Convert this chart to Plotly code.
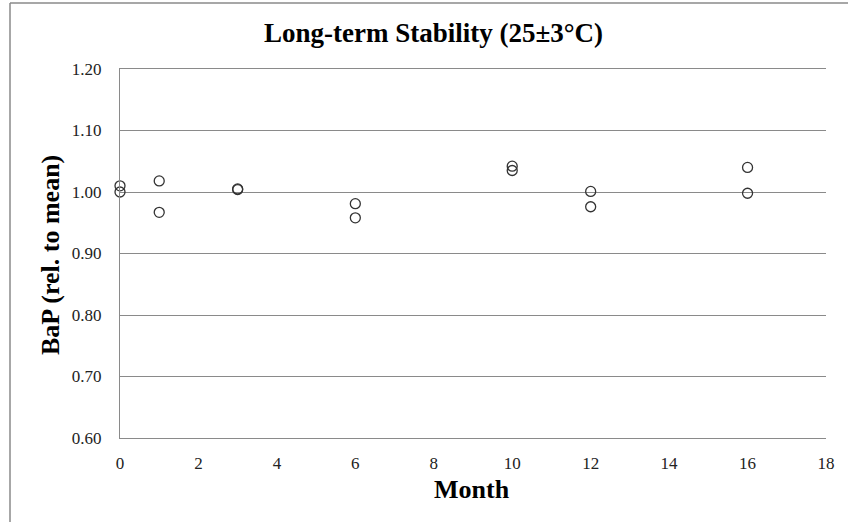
import plotly.graph_objects as go

months = [0, 0, 1, 1, 3, 3, 6, 6, 10, 10, 12, 12, 16, 16]
bap_rel = [1.010, 1.000, 1.018, 0.967, 1.005, 1.004, 0.981, 0.958,
           1.042, 1.035, 1.001, 0.976, 1.040, 0.998]
x_ticks = [0, 2, 4, 6, 8, 10, 12, 14, 16, 18]
y_ticks = [0.60, 0.70, 0.80, 0.90, 1.00, 1.10, 1.20]

W, H = 848, 522
L, R, T, B = 120, 22, 69, 84
pw, ph = W - L - R, H - T - B

def px(xp):
    return (xp - L) / pw

def py(yp):
    return (H - B - yp) / ph

fig = go.Figure()
fig.add_trace(go.Scatter(
    x=months, y=bap_rel, mode="markers",
    marker=dict(symbol="circle-open", size=10, color="#333333",
                line=dict(width=1.3, color="#333333")),
    showlegend=False, cliponaxis=False))

serif = "Liberation Serif, Times New Roman, serif"
fig.update_layout(
    width=W, height=H,
    margin=dict(l=L, r=R, t=T, b=B, autoexpand=False),
    paper_bgcolor="white", plot_bgcolor="white",
    font=dict(family=serif, color="#222222"),
    xaxis=dict(range=[0, 18], tickvals=x_ticks, ticktext=[str(v) for v in x_ticks],
               showgrid=False, zeroline=False, showline=True, mirror=True,
               linecolor="#8a8a8a", linewidth=1,
               ticks="", ticklabelstandoff=10,
               tickfont=dict(size=17, family=serif, color="#222222")),
    yaxis=dict(range=[0.6, 1.2], tickvals=y_ticks, ticktext=[f"{v:.2f}" for v in y_ticks],
               showgrid=True, gridcolor="#8a8a8a", gridwidth=1, zeroline=False,
               showline=True, linecolor="#8a8a8a", linewidth=1,
               ticks="", ticklabelstandoff=14,
               tickfont=dict(size=17, family=serif, color="#222222")),
)
fig.add_annotation(text="<b>Long-term Stability (25±3°C)</b>", xref="paper", yref="paper",
                   x=px(433), y=py(33), xanchor="center", yanchor="middle", showarrow=False,
                   font=dict(size=27, family=serif, color="black"))
fig.add_annotation(text="<b>Month</b>", xref="paper", yref="paper",
                   x=px(472), y=py(489), xanchor="center", yanchor="middle", showarrow=False,
                   font=dict(size=26, family=serif, color="black"))
fig.add_annotation(text="<b>BaP (rel. to mean)</b>", xref="paper", yref="paper",
                   x=px(50), y=py(255), xanchor="center", yanchor="middle", showarrow=False,
                   textangle=-90, font=dict(size=26, family=serif, color="black"))
# chart border (top & left visible in the reference)
fig.add_shape(type="line", xref="paper", yref="paper",
              x0=px(10), x1=px(W + 5), y0=py(3), y1=py(3),
              line=dict(color="#8a8a8a", width=1.5))
fig.add_shape(type="line", xref="paper", yref="paper",
              x0=px(10), x1=px(10), y0=py(3), y1=py(H + 5),
              line=dict(color="#8a8a8a", width=1.5))

fig.write_html("out.html", config={"displayModeBar": False},
               post_script="document.body.style.margin='0';document.body.style.overflow='hidden';")
